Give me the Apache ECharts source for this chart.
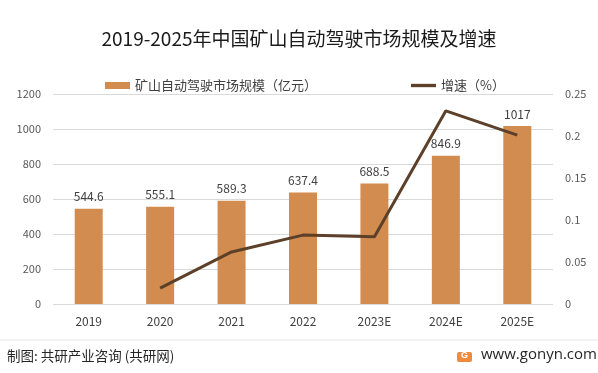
<!DOCTYPE html>
<html>
<head>
<meta charset="utf-8">
<script src="https://cdn.jsdelivr.net/npm/echarts@6/dist/echarts.min.js"></script>
<style>
html,body{margin:0;padding:0;background:#fff;}
#c{width:598px;height:373px;}
</style>
</head>
<body>
<div id="c"></div>
<script>
const categories = ['2019','2020','2021','2022','2023E','2024E','2025E'];
const marketSize = [544.6, 555.1, 589.3, 637.4, 688.5, 846.9, 1017];
const growthRate = [null, 0.019, 0.062, 0.082, 0.080, 0.230, 0.201];
const leftTicks = {min: 0, max: 1200, interval: 200};
const rightTicks = {min: 0, max: 0.25, interval: 0.05};
const titleText = '2019-2025年中国矿山自动驾驶市场规模及增速';
const barName = '矿山自动驾驶市场规模（亿元）';
const lineName = '增速（%）';
const sourceText = '制图: 共研产业咨询 (共研网)';
const siteText = 'www.gonyn.com';

const FONT = '"Noto Sans CJK SC", "Noto Sans", sans-serif';
const chart = echarts.init(document.getElementById('c'), null, {renderer: 'canvas'});
chart.setOption({
  backgroundColor: '#ffffff',
  animation: false,
  title: {
    text: titleText,
    left: 'center',
    top: 24,
    textStyle: {fontFamily: FONT, fontSize: 19, fontWeight: 'normal', color: '#1a1a1a'}
  },
  legend: {
    top: 74,
    left: 100,
    itemGap: 94,
    itemWidth: 25,
    itemHeight: 7,
    textStyle: {fontFamily: FONT, fontSize: 13, color: '#404040'},
    data: [
      {name: barName, icon: 'rect'},
      {name: lineName, icon: 'path://M0 0H30V4H0Z'}
    ]
  },
  grid: {left: 53, right: 45, top: 94, bottom: 69, containLabel: false},
  xAxis: {
    type: 'category',
    data: categories,
    axisLine: {show: false},
    axisTick: {show: false},
    axisLabel: {fontFamily: FONT, fontSize: 12, color: '#404040', margin: 11}
  },
  yAxis: [
    {
      type: 'value',
      min: leftTicks.min, max: leftTicks.max, interval: leftTicks.interval,
      axisLine: {show: false}, axisTick: {show: false},
      axisLabel: {fontFamily: FONT, fontSize: 11, color: '#595959', margin: 12, formatter: v => String(v)},
      splitLine: {lineStyle: {color: '#d9d9d9', width: 1}}
    },
    {
      type: 'value',
      min: rightTicks.min, max: rightTicks.max, interval: rightTicks.interval,
      axisLine: {show: false}, axisTick: {show: false},
      axisLabel: {fontFamily: FONT, fontSize: 11, color: '#595959', margin: 12},
      splitLine: {show: false}
    }
  ],
  series: [
    {
      name: barName,
      type: 'bar',
      data: marketSize,
      barWidth: 28,
      itemStyle: {color: '#D38C4F'},
      label: {
        show: true, position: 'top', distance: 6,
        fontFamily: FONT, fontSize: 12, color: '#404040'
      }
    },
    {
      name: lineName,
      type: 'line',
      yAxisIndex: 1,
      data: growthRate,
      symbol: 'none',
      lineStyle: {color: '#5C4029', width: 3},
      itemStyle: {color: '#5C4029'}
    }
  ],
  graphic: [
    {type: 'line', shape: {x1: 0, y1: 340, x2: 598, y2: 340}, style: {stroke: '#e6e6e6', lineWidth: 1}},
    {type: 'text', left: 7, top: 349, style: {text: sourceText, font: 'normal 13.5px ' + FONT, fill: '#262626'}},
    {type: 'rect', shape: {x: 457, y: 352, width: 15, height: 10, r: 2}, style: {fill: '#F08A3C'}},
    {type: 'text', left: 461, top: 351, style: {text: 'G', font: 'bold 9px sans-serif', fill: '#ffffff'}},
    {type: 'text', left: 481, top: 347, style: {text: siteText, font: '15px "Open Sans", sans-serif', fill: '#262626'}}
  ]
});
</script>
</body>
</html>
